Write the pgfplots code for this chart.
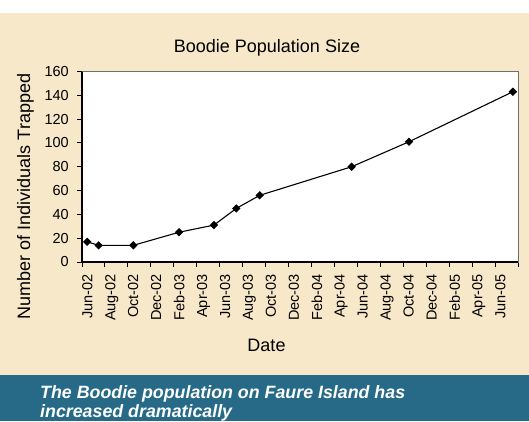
\documentclass[border=0pt]{standalone}
\usepackage{fontspec}
\setmainfont{Liberation Sans}
\usepackage{pgfplots}
\pgfplotsset{compat=1.18}
\definecolor{panelbg}{RGB}{246,232,200}
\definecolor{bandblue}{RGB}{38,106,136}
\definecolor{framegray}{RGB}{110,110,110}

\begin{document}
\begin{tikzpicture}[x=1pt,y=1pt]
  % page and panels
  \useasboundingbox (0,0) rectangle (529,421);
  \fill[white] (0,0) rectangle (529,421);
  \fill[panelbg] (0,46) rectangle (529,408);
  \fill[bandblue] (0,0) rectangle (529,46);

  \begin{axis}[
    at={(82pt,159pt)}, anchor=south west,
    scale only axis, width=436pt, height=190.5pt,
    xmin=0, xmax=38, ymin=0, ymax=160,
    axis background/.style={fill=white},
    axis line style={framegray, line width=0.6pt},
    xtick={0,2,...,38},
    xticklabels={Jun-02,Aug-02,Oct-02,Dec-02,Feb-03,Apr-03,Jun-03,Aug-03,Oct-03,Dec-03,Feb-04,Apr-04,Jun-04,Aug-04,Oct-04,Dec-04,Feb-05,Apr-05,Jun-05,{}},
    ytick={0,20,...,160},
    xtick pos=bottom, ytick pos=left,
    tick align=outside, major tick length=5pt,
    tick style={black, line width=0.9pt},
    /pgf/number format/assume math mode=true,
    ticklabel style={font=\fontsize{14.5}{16}\selectfont},
    xticklabel style={rotate=90, anchor=north east, inner sep=0pt},
    xticklabel shift=7pt,
    yticklabel style={inner sep=0pt},
    yticklabel shift=8pt,
    extra description/.code={
      \draw[black, line width=1.8pt] (rel axis cs:0,1) -- (rel axis cs:0,0) -- (rel axis cs:1,0);
    },
  ]
    % trapping sessions: months after June 2002, individuals caught
    \addplot[black, line width=1.1pt, mark=square*, mark size=2.4pt,
             mark options={rotate=45, solid, fill=black}]
      coordinates {
        (0.45,17) (1.45,14) (4.47,14) (8.46,25) (11.5,31)
        (13.45,45) (15.49,56) (23.5,80) (28.5,101) (37.55,143)
      };
  \end{axis}

  % titles
  \node[anchor=base, font=\fontsize{18}{20}\selectfont] at (267,368.3) {Boodie Population Size};
  \node[anchor=base, font=\fontsize{18}{20}\selectfont] at (266.5,69.3) {Date};
  \node[anchor=base, rotate=90, font=\fontsize{18}{20}\selectfont] at (30,224.5) {Number of Individuals Trapped};

  % caption band
  \node[anchor=base west, inner sep=0pt, text=white, font=\fontsize{17.8}{19}\selectfont\bfseries\itshape] at (40,23) {The Boodie population on Faure Island has};
  \node[anchor=base west, inner sep=0pt, text=white, font=\fontsize{17.8}{19}\selectfont\bfseries\itshape] at (40,4) {increased dramatically};
\end{tikzpicture}
\end{document}
